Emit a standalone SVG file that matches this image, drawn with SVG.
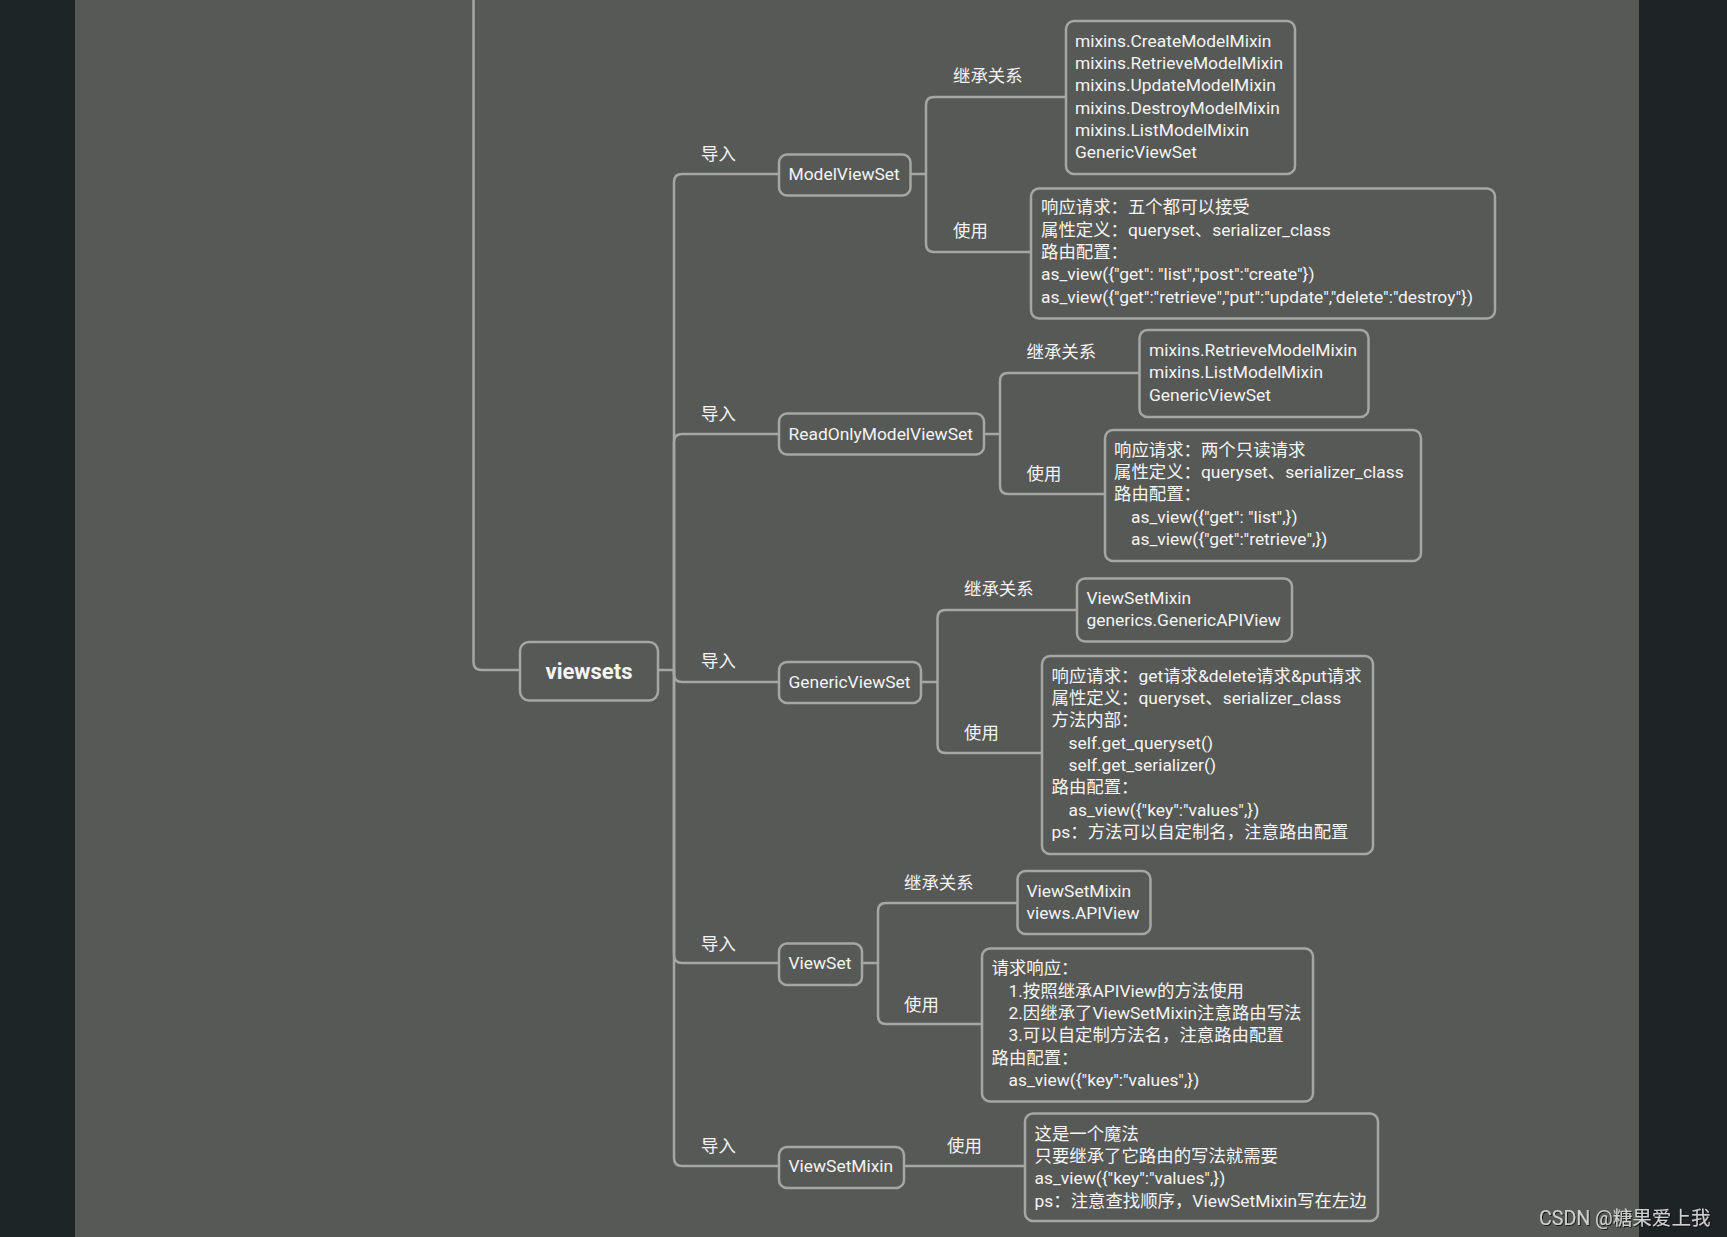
<svg xmlns="http://www.w3.org/2000/svg" width="1727" height="1237" viewBox="0 0 1727 1237">
<defs>
<style>
.bg{fill:#575956}
.box{fill:#575956;stroke:#a6a7a5;stroke-width:2.5}
.ln{fill:none;stroke:#a6a7a5;stroke-width:2.5}
text{font-family:Roboto,"Noto Sans CJK SC",sans-serif;font-size:17.4px;fill:#f4f4f4}
.root{font-size:22px;font-weight:bold;text-anchor:middle}
.wm{font-size:19.6px;fill:#cfcfcf}
</style>
<filter id="sh" x="-10%" y="-30%" width="120%" height="160%">
<feDropShadow dx="1" dy="1" stdDeviation="0.6" flood-color="#000" flood-opacity="0.7"/>
</filter>
</defs>
<rect x="0" y="0" width="1727" height="1237" class="bg"/>
<rect x="0" y="0" width="75" height="1237" fill="#1e2527"/>
<rect x="1639" y="0" width="88" height="1237" fill="#1e2326"/>

<g id="connectors">
<path class="ln" d="M473.5,0 V662 Q473.5,670 481.5,670 H520"/>
<path class="ln" d="M658,670 H674"/>
<path class="ln" d="M674,670 V182 Q674,174 682,174 H779"/>
<path class="ln" d="M674,670 V442 Q674,434 682,434 H779"/>
<path class="ln" d="M674,670 V674 Q674,682 682,682 H779"/>
<path class="ln" d="M674,670 V955 Q674,963 682,963 H779"/>
<path class="ln" d="M674,670 V1158 Q674,1166 682,1166 H779"/>
<path class="ln" d="M910.5,174 H926 M926,174 V105 Q926,97 934,97 H1066 M926,174 V244 Q926,252 934,252 H1031"/>
<path class="ln" d="M984,434 H1000 M1000,434 V381 Q1000,373 1008,373 H1139.5 M1000,434 V486 Q1000,494 1008,494 H1105"/>
<path class="ln" d="M921,682 H937.5 M937.5,682 V618 Q937.5,610 945.5,610 H1077 M937.5,682 V745 Q937.5,753 945.5,753 H1042"/>
<path class="ln" d="M862,963 H878 M878,963 V911 Q878,903 886,903 H1017.5 M878,963 V1016 Q878,1024 886,1024 H982"/>
<path class="ln" d="M904,1166 H1025"/>
<text x="701" y="160">导入</text>
<text x="701" y="420">导入</text>
<text x="701" y="667">导入</text>
<text x="701" y="950">导入</text>
<text x="701" y="1152">导入</text>
<text x="953" y="82">继承关系</text>
<text x="953" y="237">使用</text>
<text x="1026.5" y="358">继承关系</text>
<text x="1026.5" y="480">使用</text>
<text x="964" y="595">继承关系</text>
<text x="964" y="739">使用</text>
<text x="904" y="889">继承关系</text>
<text x="904" y="1011">使用</text>
<text x="947" y="1152">使用</text>
</g>

<g id="viewsets">
<rect class="box" x="520" y="642" width="138" height="58.5" rx="9"/>
<text class="root" x="589" y="679">viewsets</text>
</g>

<g id="modelviewset">
<rect class="box" x="779" y="154.5" width="131.5" height="41" rx="8"/>
<text x="788.5" y="180">ModelViewSet</text>
</g>
<g id="modelviewset-inherit">
<rect class="box" x="1066" y="21" width="229" height="153" rx="8"/>
<text x="1075" y="46.5">mixins.CreateModelMixin</text>
<text x="1075" y="68.9">mixins.RetrieveModelMixin</text>
<text x="1075" y="91.2">mixins.UpdateModelMixin</text>
<text x="1075" y="113.6">mixins.DestroyModelMixin</text>
<text x="1075" y="135.9">mixins.ListModelMixin</text>
<text x="1075" y="158.3">GenericViewSet</text>
</g>
<g id="modelviewset-use">
<rect class="box" x="1031" y="188.5" width="464" height="130" rx="8"/>
<text x="1041" y="213.3">响应请求：五个都可以接受</text>
<text x="1041" y="235.7">属性定义：queryset、serializer_class</text>
<text x="1041" y="258">路由配置：</text>
<text x="1041" y="280.4">as_view({"get": "list","post":"create"})</text>
<text x="1041" y="302.7">as_view({"get":"retrieve","put":"update","delete":"destroy"})</text>
</g>

<g id="readonlymodelviewset">
<rect class="box" x="779" y="413.5" width="205" height="41" rx="8"/>
<text x="788.5" y="439.5">ReadOnlyModelViewSet</text>
</g>
<g id="readonly-inherit">
<rect class="box" x="1139.5" y="330" width="229" height="87" rx="8"/>
<text x="1149" y="356">mixins.RetrieveModelMixin</text>
<text x="1149" y="378.3">mixins.ListModelMixin</text>
<text x="1149" y="400.7">GenericViewSet</text>
</g>
<g id="readonly-use">
<rect class="box" x="1105" y="430" width="316" height="131" rx="8"/>
<text x="1114" y="455.7">响应请求：两个只读请求</text>
<text x="1114" y="478">属性定义：queryset、serializer_class</text>
<text x="1114" y="500.4">路由配置：</text>
<text x="1131" y="522.7">as_view({"get": "list",})</text>
<text x="1131" y="545">as_view({"get":"retrieve",})</text>
</g>

<g id="genericviewset">
<rect class="box" x="779" y="662" width="142" height="41" rx="8"/>
<text x="788.5" y="687.5">GenericViewSet</text>
</g>
<g id="generic-inherit">
<rect class="box" x="1077" y="578.5" width="215" height="63" rx="8"/>
<text x="1086.5" y="604">ViewSetMixin</text>
<text x="1086.5" y="626.3">generics.GenericAPIView</text>
</g>
<g id="generic-use">
<rect class="box" x="1042" y="656" width="331" height="198" rx="8"/>
<text x="1051.5" y="681.7">响应请求：get请求&amp;delete请求&amp;put请求</text>
<text x="1051.5" y="704">属性定义：queryset、serializer_class</text>
<text x="1051.5" y="726.4">方法内部：</text>
<text x="1068.5" y="748.7">self.get_queryset()</text>
<text x="1068.5" y="771.1">self.get_serializer()</text>
<text x="1051.5" y="793.4">路由配置：</text>
<text x="1068.5" y="815.8">as_view({"key":"values",})</text>
<text x="1051.5" y="838.1">ps：方法可以自定制名，注意路由配置</text>
</g>

<g id="viewset">
<rect class="box" x="779" y="943.5" width="83" height="41.5" rx="8"/>
<text x="788.5" y="969">ViewSet</text>
</g>
<g id="viewset-inherit">
<rect class="box" x="1017.5" y="871" width="133" height="63" rx="8"/>
<text x="1026.5" y="896.7">ViewSetMixin</text>
<text x="1026.5" y="919">views.APIView</text>
</g>
<g id="viewset-use">
<rect class="box" x="982" y="948.5" width="331" height="153" rx="8"/>
<text x="991.5" y="974.3">请求响应：</text>
<text x="1008.5" y="996.7">1.按照继承APIView的方法使用</text>
<text x="1008.5" y="1019">2.因继承了ViewSetMixin注意路由写法</text>
<text x="1008.5" y="1041.4">3.可以自定制方法名，注意路由配置</text>
<text x="991.5" y="1063.7">路由配置：</text>
<text x="1008.5" y="1086">as_view({"key":"values",})</text>
</g>

<g id="viewsetmixin">
<rect class="box" x="779" y="1147" width="125" height="41" rx="8"/>
<text x="788.5" y="1172">ViewSetMixin</text>
</g>
<g id="viewsetmixin-use">
<rect class="box" x="1025" y="1113.5" width="353" height="107.5" rx="8"/>
<text x="1034.5" y="1140">这是一个魔法</text>
<text x="1034.5" y="1161.5">只要继承了它路由的写法就需要</text>
<text x="1034.5" y="1183.5">as_view({"key":"values",})</text>
<text x="1034.5" y="1206.5">ps：注意查找顺序，ViewSetMixin写在左边</text>
</g>

<text class="wm" x="1539" y="1225" filter="url(#sh)">CSDN @糖果爱上我</text>
</svg>
